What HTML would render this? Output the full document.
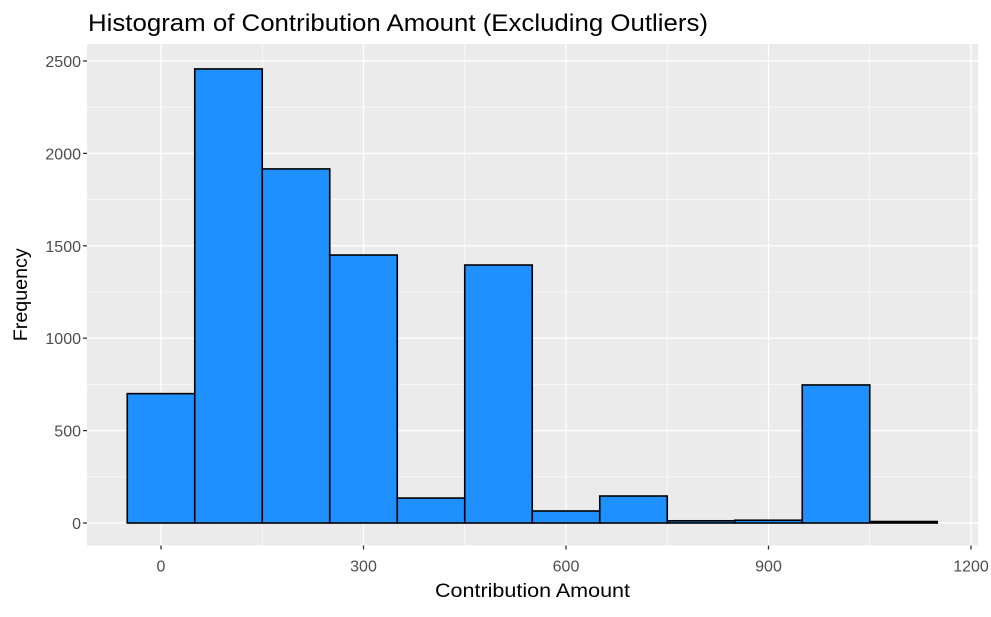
<!DOCTYPE html>
<html><head><meta charset="utf-8"><style>
body{margin:0;background:#fff;font-family:"Liberation Sans",sans-serif}
</style></head><body>
<svg id="c" width="991" height="612" xmlns="http://www.w3.org/2000/svg"></svg>
<script>
const binCenters=[0,100,200,300,400,500,600,700,800,900,1000,1100];
const counts=[700,2457,1916,1450,135,1396,65,146,12,15,747,8];
const xTicks=[0,300,600,900,1200];
const yTicks=[0,500,1000,1500,2000,2500];
const binWidth=100;
const L=87,R=978,T=44,B=545.5;
const xs=v=>161+(v)*(202.5/300);
const ys=v=>523-v*(462/2500);
const svg=document.getElementById('c');
const NS='http://www.w3.org/2000/svg';
function mk(tag,attrs,parent){const e=document.createElementNS(NS,tag);for(const k in attrs)e.setAttribute(k,attrs[k]);(parent||svg).appendChild(e);return e;}
const panel=mk('rect',{x:L,y:T,width:R-L,height:B-T,fill:'#ebebeb'});


for(let i=0;i<xTicks.length-1;i++){const m=(xTicks[i]+xTicks[i+1])/2;const l=mk('line',{x1:xs(m),x2:xs(m),y1:T,y2:B,stroke:'#fff','stroke-width':0.6});}
for(let i=0;i<yTicks.length-1;i++){const m=(yTicks[i]+yTicks[i+1])/2;const l=mk('line',{x1:L,x2:R,y1:ys(m),y2:ys(m),stroke:'#fff','stroke-width':0.6});}
mk('line',{x1:xs(-150),x2:xs(-150),y1:T,y2:B,stroke:'#fff','stroke-width':0.6});
xTicks.forEach(v=>{const l=mk('line',{x1:xs(v),x2:xs(v),y1:T,y2:B,stroke:'#fff','stroke-width':1.3});
mk('line',{x1:xs(v),x2:xs(v),y1:B,y2:B+4,stroke:'#333','stroke-width':1.3});
const tx=mk('text',{x:xs(v),y:B+26,'text-anchor':'middle','font-size':16,fill:'#4d4d4d'});tx.textContent=v;});
yTicks.forEach(v=>{const l=mk('line',{x1:L,x2:R,y1:ys(v),y2:ys(v),stroke:'#fff','stroke-width':1.3});
mk('line',{x1:L-4,x2:L,y1:ys(v),y2:ys(v),stroke:'#333','stroke-width':1.3});
const tx=mk('text',{x:L-6,y:ys(v)+6,'text-anchor':'end','font-size':16,fill:'#4d4d4d'});tx.textContent=v;});
binCenters.forEach((c,i)=>{const x0=xs(c-binWidth/2),x1=xs(c+binWidth/2);const r=mk('rect',{x:x0,y:ys(counts[i]),width:x1-x0,height:ys(0)-ys(counts[i]),fill:'#1e90ff',stroke:'#000','stroke-width':1.6});

});
const title=mk('text',{x:88,y:31,'font-size':24,fill:'#000',textLength:620,lengthAdjust:'spacingAndGlyphs'});title.textContent='Histogram of Contribution Amount (Excluding Outliers)';

const xt=mk('text',{x:(L+R)/2,y:597,'text-anchor':'middle','font-size':19,fill:'#000',textLength:195,lengthAdjust:'spacingAndGlyphs'});xt.textContent='Contribution Amount';

const yt=mk('text',{x:0,y:0,'text-anchor':'middle','font-size':19,fill:'#000',textLength:93,lengthAdjust:'spacingAndGlyphs',transform:`translate(27,${(T+B)/2}) rotate(-90)`});yt.textContent='Frequency';

</script>
</body></html>
